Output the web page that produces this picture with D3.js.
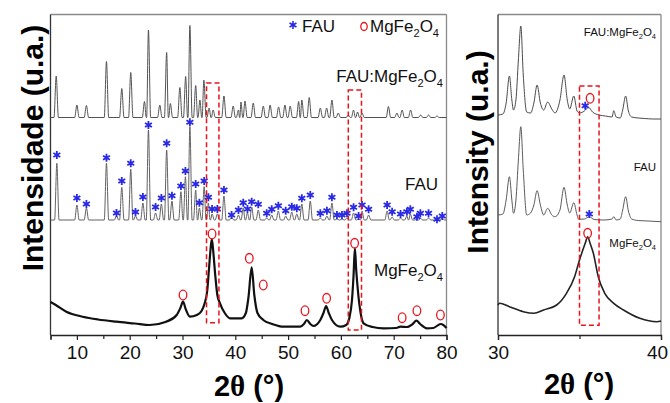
<!DOCTYPE html>
<html><head><meta charset="utf-8">
<script src="https://cdn.jsdelivr.net/npm/d3@7"></script>
<style>body{margin:0;background:#fff}svg{display:block}</style>
</head><body><svg id="c" width="670" height="403"></svg>
<script>
// ---------------- DATA ----------------
const mainTicks = [10, 20, 30, 40, 50, 60, 70, 80];
const mainMinorTicks = [5, 15, 25, 35, 45, 55, 65, 75];
const zoomTicks = [30, 40];
const zoomMinorTicks = [35];

// FAU:MgFe2O4 (main panel): baseline and peaks [2θ, intensity]
const compositeBase = 217.5;
const compositePeaks = [
  [6.08,259],[10.0,230],[11.8,229.5],[15.6,273.5],[18.5,246.5],[20.2,262.5],[22.8,233.5],[23.55,305],
  [25.7,230],[27.0,282.5],[27.7,231.5],[29.5,247.5],[30.6,258.5],[31.4,309.5],[32.5,249.5],[33.3,235],
  [34.05,255],[35.05,227],[35.8,225],[37.85,239],[39.6,229],[40.6,225],[41.07,233],[41.83,234],
  [43.4,232],[45.3,229],[46.6,230],[48.2,228],[49.4,230],[50.4,229],[52.0,233.5],[52.6,235],
  [54.0,237.5],[56.1,227],[57.3,227],[58.3,235],[59.5,222],[61.4,220],[62.4,225],[63.15,223],
  [64.0,222],[69.0,228.5],[70.6,222],[71.6,225],[73.2,225],[75.1,220],[76.6,220],[78.2,219]
];

// FAU (main panel)
const fauBase = 115;
const fauPeaks = [
  [6.2,171.7],[10.0,130],[11.8,127],[15.6,171.7],[17.5,119],[18.5,147.7],[20.2,165.7],[21.1,119],
  [22.5,132],[23.55,205],[24.9,122],[26.0,131],[27.0,185],[28.0,134],[29.7,143.3],[30.55,158.3],
  [31.4,208.3],[32.5,145],[33.2,127],[34.1,148.3],[34.9,132],[35.6,121],[36.6,121],[37.85,139],
  [39.3,118],[40.6,120],[41.5,127],[42.3,122],[43.1,128],[44.35,125],[45.95,117],[46.9,120],
  [48.15,124],[49.55,119],[50.7,123],[51.65,121],[52.6,131],[54.2,134],[56.1,117],[57.35,119],
  [58.3,132],[59.25,116],[60.2,116],[61.15,117],[62.4,122],[63.35,116],[64.0,124],[65.25,120],
  [68.75,124],[69.7,118],[71.3,117],[72.5,119],[73.15,121],[74.4,116],[75.05,117],[76.6,117],
  [78.2,116],[79.2,117]
];
const fauStars = [
  [6.2,180],[10.0,137],[11.8,131],[15.6,177.3],[17.5,122],[18.5,154],[20.2,171.7],[21.1,123],
  [22.5,138],[23.55,210],[24.9,128],[26.0,137],[27.0,191.7],[28.0,139.3],[29.7,149],[30.55,164],
  [31.4,212.7],[32.5,151],[33.2,132.3],[34.1,154],[34.9,137.7],[35.6,126],[36.6,126],[37.85,145],
  [39.3,120],[40.6,125],[41.5,132.3],[42.3,126],[43.1,133.3],[44.35,130.7],[45.95,121.7],[46.9,125.7],
  [48.15,129.3],[49.55,124.3],[50.7,128.3],[51.65,126.7],[52.6,136.7],[54.2,140],[56.1,121.7],[57.35,124.3],
  [58.3,137.7],[59.25,120],[60.2,120],[61.15,121.7],[62.4,127.7],[63.35,119],[64.0,130],[65.25,125.7],
  [68.75,130],[69.7,123.3],[71.3,121],[72.5,123.3],[73.15,125.7],[74.4,118.3],[75.05,121.7],[76.6,121.7],
  [78.2,115.7],[79.2,119]
];

// MgFe2O4 (main panel): trace [2θ, intensity]
const ferriteTrace = [
  [5,33],[6,30],[8,23.3],[11.1,18.3],[14,15.5],[17.5,13.3],[21,11.5],[23.8,10],[26.9,13.3],[28.9,20],
  [29.6,27],[30.1,33.3],[30.6,26],[31.4,18.3],[32.7,20],[33.6,24],[34.2,31.7],[34.7,45],[35.0,65],
  [35.3,85],[35.55,96],[35.8,85],[36.2,60],[36.6,40],[37.1,31.7],[38,22],[39.0,16.7],[41.2,16.7],
  [42.0,22],[42.5,38],[43.1,67.7],[43.6,40],[44.2,22],[45.3,15],[47,11],[49.1,8.3],[52.3,8.3],
  [53.0,11],[53.55,15],[54.2,11],[54.8,9],[56.1,15],[56.7,22],[57.2,29],[57.7,22],[58.3,15],
  [59.9,8.3],[61.0,10],[61.6,17],[62.1,35],[62.4,60],[62.65,87],[62.9,65],[63.3,40],[63.8,20],
  [64.3,11.7],[66,8],[68.1,6.7],[70.5,7],[71.3,8.3],[72.5,8],[73.6,11],[74.3,14.3],[75,11],
  [76.3,6.7],[77.5,7],[78.9,11],[79.4,10],[80,7]
];
const ferriteMarks = [
  [30.1,40],[35.6,101],[42.65,76.7],[45.3,50],[53.2,24.3],[57.3,36.7],[62.6,91.7],[71.6,17.3],[74.4,24.3],[78.85,20]
];

// Zoom panel (30–40°)
const zoomComposite = [
  [30.0,220],[30.3,221],[30.5,232],[30.7,259],[30.85,235],[30.95,225],[31.1,235],[31.25,275],[31.4,309],
  [31.55,260],[31.76,223],[32.0,222],[32.2,232],[32.4,250],[32.6,232],[32.8,225],[33.05,233],[33.3,226],
  [33.5,222],[33.8,235],[34.05,260],[34.25,235],[34.4,226],[34.65,239],[34.85,224],[35.0,222],[35.3,224],
  [35.55,227.7],[35.8,223],[36.2,220],[36.6,219],[37.0,218],[37.1,224.3],[37.25,218],[37.5,217],[37.65,225],
  [37.83,239],[38.0,224],[38.2,218],[38.6,217],[39,216.5],[39.5,216],[40,216]
];
const zoomFau = [
  [30.0,120],[30.3,121],[30.5,135],[30.7,158.3],[30.85,135],[30.95,121.7],[31.1,135],[31.25,175],[31.4,208.3],
  [31.55,165],[31.76,120],[32.0,122],[32.2,130],[32.4,144.3],[32.6,130],[32.8,120],[33.05,126.7],[33.3,120],
  [33.5,118.3],[33.8,125],[34.05,147.7],[34.25,130],[34.4,122],[34.65,132.3],[34.85,120],[34.95,115.7],
  [35.3,116],[35.6,118.3],[35.9,115.5],[36.5,115],[37.0,116],[37.1,118.3],[37.25,115],[37.5,116],[37.65,125],
  [37.83,138.3],[38.0,124],[38.2,116],[38.6,114.5],[39.2,114],[40,113.3]
];
const zoomFerrite = [
  [30.0,30],[30.1,31.7],[30.7,28.3],[31.55,23.3],[32.2,21.7],[32.8,25],[33.6,30],[34.2,41.7],[34.7,58.3],
  [35.0,75],[35.35,91.7],[35.5,98.3],[35.65,91.7],[35.85,81.7],[36.15,58.3],[36.55,41.7],[37.1,31.7],
  [37.7,25],[38.7,16.7],[39.75,13.3],[40,14]
];
const zoomStars = [[35.35,229.3],[35.6,121]];
const zoomMarks = [[35.65,236.7],[35.5,101.7]];

// highlighted 2θ windows [from, to, low, high]
const mainWindows = [[34.55,36.9,12.3,252],[61.4,63.9,5,245]];
const zoomWindows = [[35.0,36.2,9.7,249]];

// ---------------- DRAWING ----------------
const svg = d3.select('#c');
const SANS = 'Liberation Sans, Arial, sans-serif';
const BLUE = '#2a2ae6', RED = '#e8141c';

const yScale = d3.scaleLinear().domain([0, 321]).range([335, 14]);
const xMain = d3.scaleLinear().domain([5, 80]).range([50.5, 446.5]);
const xZoom = d3.scaleLinear().domain([30, 40]).range([498, 661]);

function peakVertices(peaks, base, w, x0, x1) {
  const pts = [[x0, base]];
  peaks.forEach((p, i) => {
    const prev = peaks[i - 1], next = peaks[i + 1];
    const wl = prev ? Math.min(w, (p[0] - prev[0]) * 0.45) : w;
    const wr = next ? Math.min(w, (next[0] - p[0]) * 0.45) : w;
    pts.push([p[0] - wl, base], [p[0], p[1]], [p[0] + wr, base]);
  });
  pts.push([x1, base]);
  return pts;
}

// asterisk symbol type
const asterisk = {
  draw(ctx, size) {
    const r = Math.sqrt(size) * 0.6, t = r / 2, u = t * Math.sqrt(3);
    ctx.moveTo(0, r); ctx.lineTo(0, -r);
    ctx.moveTo(-u, -t); ctx.lineTo(u, t);
    ctx.moveTo(-u, t); ctx.lineTo(u, -t);
  }
};
const starPath = d3.symbol().type(asterisk).size(44)();

function drawPanel(x, ticks, minor) {
  const g = svg.append('g');
  const [xl, xr] = x.range();
  g.append('line').attr('x1', xl).attr('x2', xr).attr('y1', 14.5).attr('y2', 14.5).attr('stroke', '#8a8a8a').attr('stroke-width', 1.3);
  g.append('line').attr('x1', xr).attr('x2', xr).attr('y1', 14.5).attr('y2', 335).attr('stroke', '#8a8a8a').attr('stroke-width', 1.3);
  g.append('line').attr('x1', xl).attr('x2', xl).attr('y1', 14.5).attr('y2', 335).attr('stroke', '#333').attr('stroke-width', 1.3);
  const ax = g.append('g').attr('transform', 'translate(0,335)')
    .call(d3.axisBottom(x).tickValues(ticks).tickSize(5).tickPadding(6).tickFormat(d3.format('d')));
  ax.select('.domain').attr('stroke', '#222').attr('stroke-width', 1.3);
  ax.selectAll('.tick line').attr('stroke', '#222').attr('stroke-width', 1.2);
  ax.selectAll('.tick text').attr('font-family', SANS).attr('font-size', 19).attr('fill', '#111')
    .attr('dx', d => (x(d) > 655 ? -4 : 0));
  const mg = g.append('g').attr('transform', 'translate(0,335)')
    .call(d3.axisBottom(x).tickValues(minor).tickSize(4).tickFormat(''));
  mg.select('.domain').remove();
  mg.selectAll('.tick line').attr('stroke', '#222').attr('stroke-width', 1.2);
  return g;
}

function drawLine(g, x, pts, color, width, curve) {
  g.append('path').datum(pts)
    .attr('d', d3.line().x(d => x(d[0])).y(d => yScale(d[1])).curve(curve))
    .attr('fill', 'none').attr('stroke', color).attr('stroke-width', width)
    .attr('stroke-linejoin', 'round');
}
function drawStars(g, x, pts) {
  g.selectAll(null).data(pts).enter().append('path')
    .attr('d', starPath)
    .attr('transform', d => `translate(${x(d[0])},${yScale(d[1])})`)
    .attr('fill', 'none').attr('stroke', BLUE).attr('stroke-width', 1.8);
}
function drawMarks(g, x, pts, size) {
  g.selectAll(null).data(pts).enter().append('ellipse')
    .attr('cx', d => x(d[0])).attr('cy', d => yScale(d[1]))
    .attr('rx', size * 0.38).attr('ry', size * 0.48)
    .attr('fill', 'none').attr('stroke', RED).attr('stroke-width', 1.3);
}
function drawWindows(g, x, wins) {
  g.selectAll(null).data(wins).enter().append('rect')
    .attr('x', d => x(d[0])).attr('width', d => x(d[1]) - x(d[0]))
    .attr('y', d => yScale(d[3])).attr('height', d => yScale(d[2]) - yScale(d[3]))
    .attr('fill', 'none').attr('stroke', RED).attr('stroke-width', 1.5)
    .attr('stroke-dasharray', '5,3');
}
function label(g, xp, yp, parts, size, anchor, color) {
  const t = g.append('text').attr('x', xp).attr('y', yp).attr('font-family', SANS)
    .attr('font-size', size).attr('text-anchor', anchor || 'end').attr('fill', color || '#111');
  parts.forEach(p => {
    if (p.sub) t.append('tspan').attr('font-size', size * 0.65).attr('dy', size * 0.28).text(p.t);
    else t.append('tspan').attr('dy', p.back ? -size * 0.28 : 0).text(p.t);
  });
  return t;
}
const formula = [{t:'MgFe'},{t:'2',sub:true},{t:'O',back:true},{t:'4',sub:true}];
const composite = [{t:'FAU:MgFe'},{t:'2',sub:true},{t:'O',back:true},{t:'4',sub:true}];

// ---- main panel ----
const gm = drawPanel(xMain, mainTicks, mainMinorTicks);
drawLine(gm, xMain, peakVertices(compositePeaks, compositeBase, 0.42, 5, 80), '#4a4a4a', 0.95, d3.curveMonotoneX);
drawLine(gm, xMain, peakVertices(fauPeaks, fauBase, 0.42, 5, 80), '#5a5a5a', 0.95, d3.curveMonotoneX);
drawLine(gm, xMain, ferriteTrace, '#111', 2.2, d3.curveMonotoneX);
drawStars(gm, xMain, fauStars);
drawMarks(gm, xMain, ferriteMarks, 10);
drawWindows(gm, xMain, mainWindows);

// legend
gm.append('path').attr('d', starPath).attr('transform', 'translate(293,25)')
  .attr('fill', 'none').attr('stroke', BLUE).attr('stroke-width', 1.6);
label(gm, 302, 32, [{t:'FAU'}], 17, 'start');
gm.append('ellipse').attr('cx', 364).attr('cy', 26.5).attr('rx', 3.2).attr('ry', 4).attr('fill', 'none').attr('stroke', RED).attr('stroke-width', 1.3);
label(gm, 370, 32, formula, 17, 'start');

label(gm, 443, 82, composite, 17);
label(gm, 438, 190, [{t:'FAU'}], 17);
label(gm, 443, 276, formula, 17);

// ---- zoom panel ----
const gz = drawPanel(xZoom, zoomTicks, zoomMinorTicks);
drawLine(gz, xZoom, zoomComposite, '#4a4a4a', 1, d3.curveMonotoneX);
drawLine(gz, xZoom, zoomFau, '#5a5a5a', 1, d3.curveMonotoneX);
drawLine(gz, xZoom, zoomFerrite, '#222', 1.6, d3.curveMonotoneX);
drawStars(gz, xZoom, zoomStars);
drawMarks(gz, xZoom, zoomMarks, 10);
drawWindows(gz, xZoom, zoomWindows);
label(gz, 656, 36, composite, 11.5);
label(gz, 656, 171, [{t:'FAU'}], 11.5);
label(gz, 656, 247, formula, 11.5);

// ---- axis titles ----
function xTitle(cx, cy) {
  const t = svg.append('text').attr('x', cx).attr('y', cy).attr('text-anchor', 'middle')
    .attr('font-family', SANS).attr('font-weight', 'bold').attr('font-size', 29).attr('fill', '#000');
  t.append('tspan').text('2');
  t.append('tspan').attr('font-family', 'Liberation Serif, Times New Roman, serif').attr('font-weight', 'bold').text('θ');
  t.append('tspan').text(' (°)');
}
xTitle(249, 396);
xTitle(579, 394);

function yTitle(cx, cy, txt) {
  svg.append('text').attr('transform', `translate(${cx},${cy}) rotate(-90)`)
    .attr('text-anchor', 'middle').attr('font-family', SANS).attr('font-weight', 'bold')
    .attr('font-size', 30).attr('fill', '#000').text(txt);
}
yTitle(43, 148, 'Intensidade (u.a.)');
yTitle(488, 152, 'Intensity (u.a.)');
</script>
</body></html>
